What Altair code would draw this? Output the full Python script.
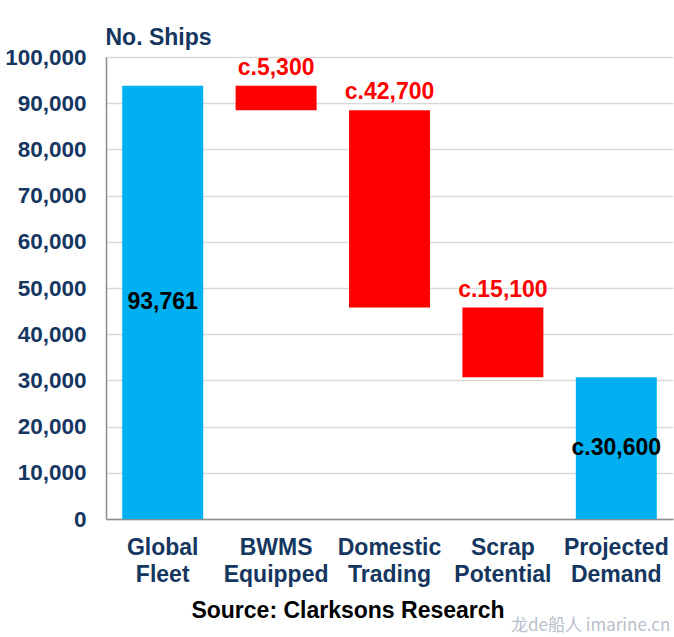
import altair as alt
import pandas as pd

categories = ["Global Fleet", "BWMS Equipped", "Domestic Trading", "Scrap Potential", "Projected Demand"]
amounts = [93761, -5300, -42700, -15100, 30661]
kinds = ["total", "change", "change", "change", "total"]
labels = ["93,761", "c.5,300", "c.42,700", "c.15,100", "c.30,600"]

rows = []
running = 0
for c, a, k, l in zip(categories, amounts, kinds, labels):
    if k == "total":
        base, top = 0, a
        running = a
    else:
        base, top = running + a, running
        running = running + a
    rows.append({"cat": c, "base": base, "top": top, "mid": (base + top) / 2,
                 "kind": k, "label": l})
df = pd.DataFrame(rows)

NAVY = "#14365F"
FONT = "Liberation Sans"

x = alt.X("cat:N", sort=categories, title=None,
          scale=alt.Scale(paddingInner=0.286, paddingOuter=0.143),
          axis=alt.Axis(labelExpr="split(datum.label, ' ')", labelAngle=0,
                        labelFont=FONT, labelFontSize=23, labelFontWeight="bold",
                        labelColor=NAVY, labelLineHeight=27, labelPadding=17,
                        ticks=False, domainColor="#8C8C8C", domainWidth=1.5,
                        labelBaseline="top"))

y_scale = alt.Scale(domain=[0, 100000], nice=False)

bars = alt.Chart(df).mark_bar().encode(
    x=x,
    y=alt.Y("base:Q", scale=y_scale, title="No. Ships",
            axis=alt.Axis(values=list(range(0, 100001, 10000)), format=",d",
                          labelFont=FONT, labelFontSize=22.5, labelFontWeight="bold",
                          labelColor=NAVY, labelPadding=20, ticks=False,
                          domainColor="#8C8C8C", domainWidth=1.5,
                          gridColor="#D9D9D9", gridWidth=1.3,
                          titleAngle=0, titleAlign="left", titleBaseline="middle",
                          titleX=-1, titleY=-20, titleFont=FONT, titleFontSize=23,
                          titleFontWeight="bold", titleColor=NAVY)),
    y2="top:Q",
    color=alt.Color("kind:N", scale=alt.Scale(domain=["total", "change"],
                                              range=["#00B0F0", "#FF0000"]), legend=None),
)

change_labels = alt.Chart(df).transform_filter("datum.kind == 'change'").mark_text(
    font=FONT, fontSize=23, fontWeight="bold", color="#FF0000", dy=-18, baseline="middle"
).encode(x=alt.X("cat:N", sort=categories), y=alt.Y("top:Q", scale=y_scale), text="label:N")

total_labels = alt.Chart(df).transform_filter("datum.kind == 'total'").mark_text(
    font=FONT, fontSize=23, fontWeight="bold", color="#000000", baseline="middle"
).encode(x=alt.X("cat:N", sort=categories), y=alt.Y("mid:Q", scale=y_scale), text="label:N")

source = alt.Chart(pd.DataFrame({"t": ["Source: Clarksons Research"]})).mark_text(
    font=FONT, fontSize=23, fontWeight="bold", color="#000000", align="center", baseline="middle"
).encode(text="t:N", x=alt.value(242), y=alt.value(554))

watermark = alt.Chart(pd.DataFrame({"t": ["龙de船人 imarine.cn"]})).mark_text(
    font="Noto Sans CJK SC", fontSize=17, color="#B8C0CC", align="left", baseline="middle"
).encode(text="t:N", x=alt.value(405), y=alt.value(569))

chart = alt.layer(bars, change_labels, total_labels, source, watermark).properties(
    width=567, height=462,
    padding={"left": 106, "top": 57, "right": 1, "bottom": 118},
    autosize="none",
    background="white",
).configure_view(stroke=None)

chart.save("out.html", embed_options={"renderer": "svg", "actions": False})
